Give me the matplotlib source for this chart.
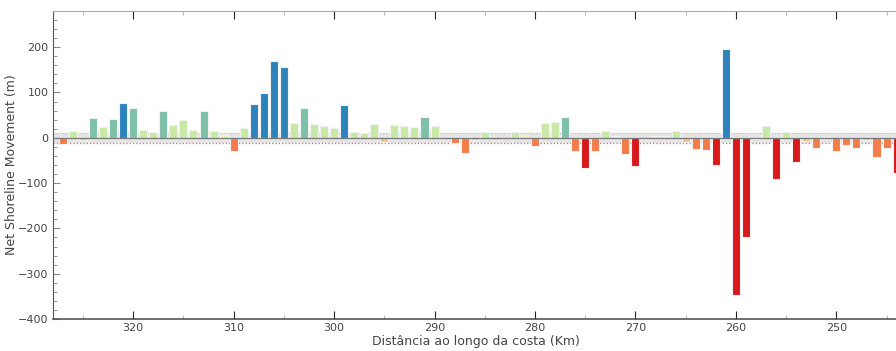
import numpy as np
import matplotlib
matplotlib.use("Agg")
import matplotlib.pyplot as plt
from matplotlib.ticker import MultipleLocator

# distance along the coast (km) and net shoreline movement (m)
km = list(range(327, 243, -1))
nsm = [
    -14, 14, -5, 43, 24, 42, 76, 65, 17, 12,      # 327-318
    60, 29, 39, 17, 60, 14, 9, -29, 21, 75,       # 317-308
    99, 169, 156, 33, 66, 30, 26, 21, 72, 12,     # 307-298
    11, 30, -9, 29, 26, 23, 45, 26, 0, -11,       # 297-288
    -34, -6, 12, -6, 0, 13, 6, -18, 32, 35,       # 287-278
    45, -29, -66, -29, 15, 3, -36, -62, -3, 3,    # 277-268
    4, 15, -10, -24, -26, -59, 196, -346, -220, -3,  # 267-258
    26, -91, 12, -54, -7, -23, 1, -30, -16, -23,  # 257-248
    -6, -42, -23, -78,                            # 247-244
]

# class limits (m) and colours
bins = [-50, -10, 0, 10, 40, 70]
colors = ["#d7191c", "#f47c4a", "#f9c27e", "#f3efb4", "#c8e8a6", "#7fc0a8", "#2b83ba"]

bar_colors = [colors[int(np.digitize(v, bins, right=False))] for v in nsm]

fig = plt.figure(figsize=(8.96, 3.51), dpi=100)
ax = fig.add_axes([0.059, 0.091, 0.945, 0.878])

# +/- 11 m uncertainty band
ax.axhspan(-11, 11, facecolor="#d4d4d4", alpha=0.6, zorder=0)
ax.axhline(11, color="#f0a8a8", lw=0.8, ls=":", zorder=0)
ax.axhline(-11, color="#e86060", lw=0.9, ls=":", zorder=0)
ax.bar(km, nsm, width=0.8, color=bar_colors, edgecolor="#f2f2f2", linewidth=0.8, zorder=2)
ax.axhline(0, color="#777777", lw=0.9, zorder=3)

ax.set_xlim(328, 243.7)
ax.set_ylim(-400, 280)

ax.xaxis.set_major_locator(MultipleLocator(10))
ax.xaxis.set_minor_locator(MultipleLocator(5))
ax.yaxis.set_major_locator(MultipleLocator(100))
ax.yaxis.set_minor_locator(MultipleLocator(20))
ax.tick_params(which="both", direction="in", top=True, right=False,
               labelsize=8, labelcolor="#444444", pad=3)
ax.tick_params(axis="x", which="major", length=6, color="#222222")
ax.tick_params(axis="x", which="minor", length=3, color="#aaaaaa")
ax.tick_params(axis="y", which="major", length=5, color="#888888")
ax.tick_params(axis="y", which="minor", length=3, color="#888888")

ax.spines["right"].set_visible(False)
ax.spines["top"].set_color("#aaaaaa")
ax.spines["left"].set_color("#555555")
ax.spines["bottom"].set_color("#555555")
ax.spines["bottom"].set_linewidth(1.2)

ax.set_ylabel("Net Shoreline Movement (m)", fontsize=9, color="#444444", labelpad=0)
ax.set_xlabel("Distância ao longo da costa (Km)", fontsize=9, color="#444444", labelpad=1)

fig.savefig("out.png", dpi=100)
